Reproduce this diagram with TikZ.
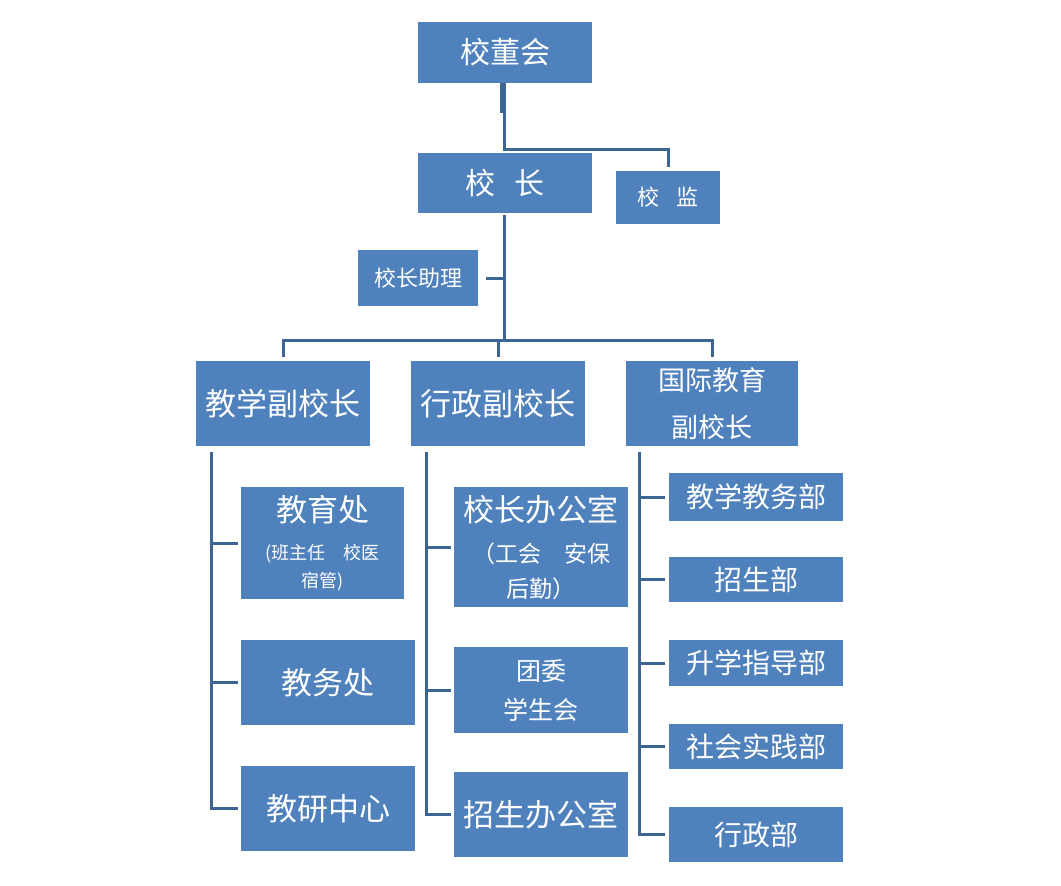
\documentclass[tikz,border=0pt]{standalone}
\usepackage{fontspec}
\newfontfamily\cjk{Noto Sans CJK SC}
\usetikzlibrary{calc}
\definecolor{boxblue}{HTML}{4F81BD}
\definecolor{lineblue}{HTML}{3C6594}
\newcommand{\fsz}[2]{\fontsize{#1}{#2}\selectfont}
\tikzset{
  box/.style={fill=boxblue, text=white, inner sep=0pt, align=center},
  conn/.style={draw=lineblue, line width=3pt},
}
\begin{document}
\begin{tikzpicture}[x=1pt,y=-1pt]
\useasboundingbox (0,0) rectangle (1061,886);
\fill[white] (0,0) rectangle (1061,886);

% top levels
\node[box, minimum width=174pt, minimum height=61pt, font=\cjk\fsz{30}{36}] (dsh) at (505,52.5) {校董会};
\node[box, minimum width=174pt, minimum height=60pt, font=\cjk\fsz{30}{36}] (xz) at (505,183) {校\hspace{20pt}长};
\node[box, minimum width=104pt, minimum height=53pt, font=\cjk\fsz{22}{26}] (xj) at (668,197.5) {校\hspace{17pt}监};
\node[box, minimum width=120pt, minimum height=56pt, font=\cjk\fsz{22}{26}] (zl) at (418,278) {校长助理};

% vice principals
\node[box, minimum width=174pt, minimum height=85pt, font=\cjk\fsz{31}{36}] (v1) at (283,403.5) {教学副校长};
\node[box, minimum width=174pt, minimum height=85pt, font=\cjk\fsz{31}{36}] (v2) at (498,403.5) {行政副校长};
\node[box, minimum width=172pt, minimum height=85pt, font=\cjk\fsz{27}{47}] (v3) at (712,403.5) {国际教育\\副校长};

% left column
\node[box, minimum width=163pt, minimum height=112pt, font=\cjk\fsz{18}{28}] (jy) at (322.5,543)
  {{\fsz{31}{36}教育处}\\[10pt](班主任　校医\\宿管)};
\node[box, minimum width=174pt, minimum height=85pt, font=\cjk\fsz{31}{36}] (jw) at (328,682.5) {教务处};
\node[box, minimum width=174pt, minimum height=85pt, font=\cjk\fsz{31}{36}] (jyzx) at (328,808.5) {教研中心};

% middle column
\node[box, minimum width=174pt, minimum height=120pt, font=\cjk\fsz{23}{35}] (xb) at (541,547)
  {{\fsz{31}{36}校长办公室}\\[6pt]（工会　安保\\后勤）};
\node[box, minimum width=174pt, minimum height=86pt, font=\cjk\fsz{25}{39}] (tw) at (541,690) {团委\\学生会};
\node[box, minimum width=174pt, minimum height=85pt, font=\cjk\fsz{31}{36}] (zs) at (541,814.5) {招生办公室};

% right column
\node[box, minimum width=174pt, minimum height=48pt, font=\cjk\fsz{28}{34}] (r1) at (756,497) {教学教务部};
\node[box, minimum width=174pt, minimum height=45pt, font=\cjk\fsz{28}{34}] (r2) at (756,579.5) {招生部};
\node[box, minimum width=174pt, minimum height=46pt, font=\cjk\fsz{28}{34}] (r3) at (756,663) {升学指导部};
\node[box, minimum width=174pt, minimum height=45pt, font=\cjk\fsz{28}{34}] (r4) at (756,746.5) {社会实践部};
\node[box, minimum width=174pt, minimum height=55pt, font=\cjk\fsz{28}{34}] (r5) at (756,834.5) {行政部};

% connectors: board -> supervisor
\coordinate (j1) at ($(dsh.south)+(-1,66)$);
\draw[conn] (j1 |- dsh.south) -- (j1) -| ([yshift=4pt]xj.north);
\draw[lineblue, line width=4.5pt] ($(j1 |- dsh.south)+(-1.5,0)$) -- ++(0,30);

% principal -> vice principals
\coordinate (j2) at (504,340);
\draw[conn] ([yshift=-2pt]j2 |- xz.south) -- (j2);
\draw[conn, shorten <=8pt] (zl.east) -- (zl.east -| j2);
\draw[conn, shorten >=4pt] (j2) -| (v1.north);
\draw[conn, shorten >=4pt] (j2) -| (v2.north);
\draw[conn, shorten >=4pt] (j2) -| (v3.north);

% left column
\coordinate (c1) at ($(v1.south west)+(16,6)$);
\draw[conn, shorten >=3pt] (c1) |- (jyzx.west);
\draw[conn, shorten >=3pt] (c1 |- jy.west) -- (jy.west);
\draw[conn, shorten >=3pt] (c1 |- jw.west) -- (jw.west);

% middle column
\coordinate (c2) at ($(v2.south west)+(16,6)$);
\draw[conn, shorten >=3pt] (c2) |- (zs.west);
\draw[conn, shorten >=3pt] (c2 |- xb.west) -- (xb.west);
\draw[conn, shorten >=3pt] (c2 |- tw.west) -- (tw.west);

% right column
\coordinate (c3) at ($(v3.south west)+(14,6)$);
\draw[conn, shorten >=4pt] (c3) |- (r5.west);
\draw[conn, shorten >=4pt] (c3 |- r1.west) -- (r1.west);
\draw[conn, shorten >=4pt] (c3 |- r2.west) -- (r2.west);
\draw[conn, shorten >=4pt] (c3 |- r3.west) -- (r3.west);
\draw[conn, shorten >=4pt] (c3 |- r4.west) -- (r4.west);
\end{tikzpicture}
\end{document}
